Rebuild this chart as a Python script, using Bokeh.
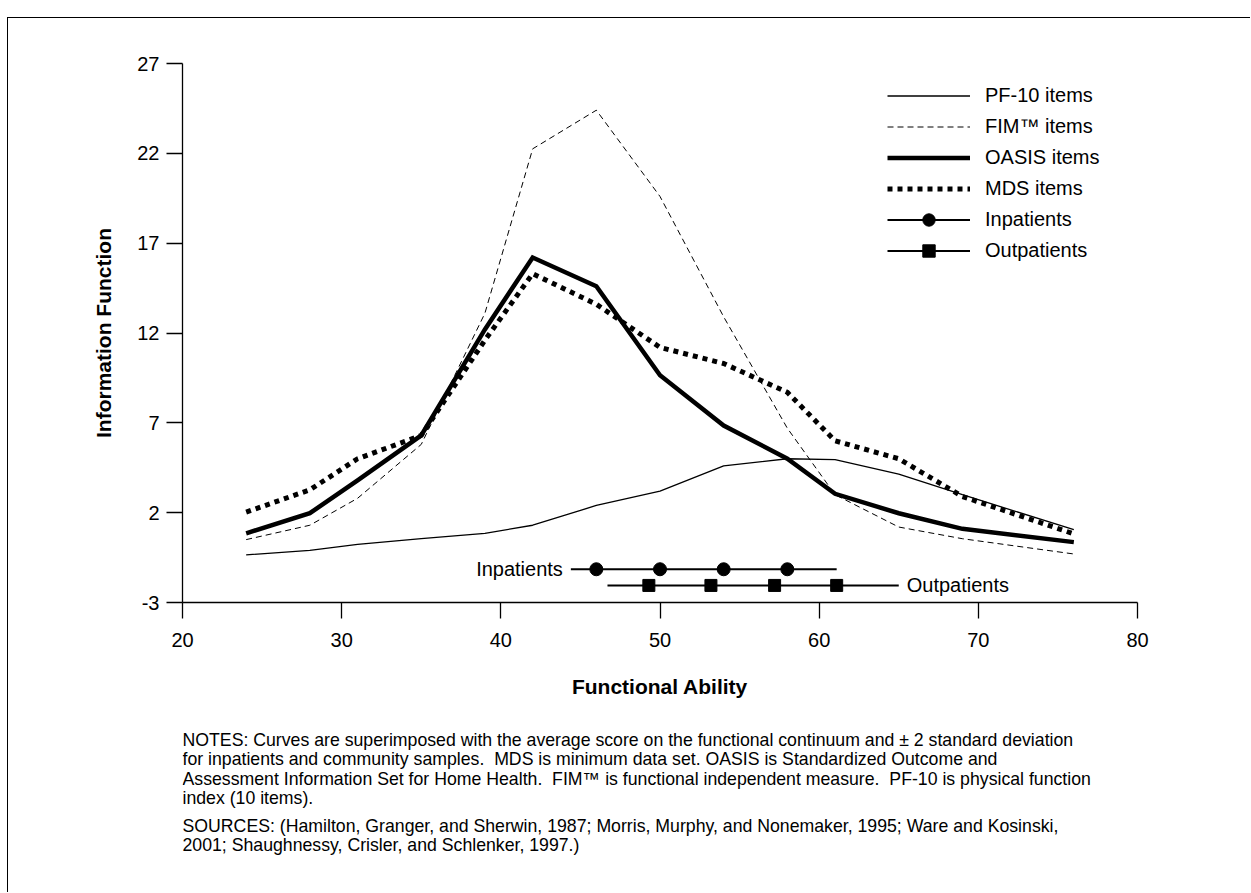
from bokeh.plotting import figure
from bokeh.models import (Legend, LegendItem, Label, FixedTicker, Range1d,
                          PrintfTickFormatter)
from bokeh.layouts import column
from bokeh.embed import file_html
from bokeh.resources import INLINE

FONT = "Liberation Sans"

# ---------------- data ----------------
ability = [24, 28, 31, 35, 39, 42, 46, 50, 54, 58, 61, 65, 69, 76]
pf10 = [-0.35, -0.1, 0.23, 0.55, 0.85, 1.3, 2.4, 3.2, 4.6, 5.0, 4.95, 4.15, 3.0, 1.05]
fim = [0.5, 1.3, 2.8, 5.8, 13.1, 22.25, 24.4, 19.6, 12.9, 6.7, 3.0, 1.2, 0.55, -0.3]
oasis = [0.85, 1.97, 3.8, 6.3, 12.2, 16.2, 14.6, 9.65, 6.85, 5.0, 3.05, 1.97, 1.1, 0.36]
mds = [2.03, 3.27, 5.0, 6.3, 11.6, 15.3, 13.6, 11.2, 10.3, 8.7, 6.0, 5.0, 2.9, 0.82]

inpatient_marks = [46, 50, 54, 58]
inpatient_span = [44.4, 61.1]
inpatient_level = -1.15
outpatient_marks = [49.3, 53.2, 57.2, 61.1]
outpatient_span = [46.7, 65.0]
outpatient_level = -2.05

x_ticks = [20, 30, 40, 50, 60, 70, 80]
y_ticks = [-3, 2, 7, 12, 17, 22, 27]

notes_lines = [
    "NOTES: Curves are superimposed with the average score on the functional continuum and \u00b1 2 standard deviation",
    "for inpatients and community samples.\u00a0 MDS is minimum data set. OASIS is Standardized Outcome and",
    "Assessment Information Set for Home Health.\u00a0 FIM\u2122 is functional independent measure.\u00a0 PF-10 is physical function",
    "index (10 items).",
]
sources_lines = [
    "SOURCES: (Hamilton, Granger, and Sherwin, 1987; Morris, Murphy, and Nonemaker, 1995; Ware and Kosinski,",
    "2001; Shaughnessy, Crisler, and Schlenker, 1997.)",
]

W = 1242
BL, BR = 174, 113

# ---------------- chart figure ----------------
p = figure(width=W, height=700, output_backend="svg", toolbar_location=None,
           x_range=Range1d(20, 80), y_range=Range1d(-3, 27),
           min_border_left=BL, min_border_right=BR,
           min_border_top=45, min_border_bottom=116)
p.outline_line_color = None
p.xgrid.visible = False
p.ygrid.visible = False

for ax in (p.xaxis[0], p.yaxis[0]):
    ax.major_tick_out = 16
    ax.major_tick_in = 0
    ax.minor_tick_line_color = None
    ax.axis_line_color = "black"
    ax.axis_line_width = 1.3
    ax.major_tick_line_width = 1.3
    ax.major_tick_line_color = "black"
    ax.major_label_text_font = FONT
    ax.major_label_text_font_size = "20px"
    ax.major_label_text_color = "black"
    ax.axis_label_text_font = FONT
    ax.axis_label_text_font_size = "21px"
    ax.axis_label_text_font_style = "bold"
    ax.axis_label_text_color = "black"
    ax.formatter = PrintfTickFormatter(format="%d")

p.xaxis.ticker = FixedTicker(ticks=x_ticks)
p.yaxis.ticker = FixedTicker(ticks=y_ticks)
p.xaxis.axis_label = "Functional Ability"
p.yaxis.axis_label = "Information Function"
p.xaxis.major_label_standoff = 14
p.yaxis.major_label_standoff = 7
p.xaxis.axis_label_standoff = 25
p.yaxis.axis_label_standoff = 19

# ---------------- series ----------------
r_pf = p.line(ability, pf10, line_color="black", line_width=1.3)
r_fim = p.line(ability, fim, line_color="black", line_width=1, line_dash="6 4")
r_oasis = p.line(ability, oasis, line_color="black", line_width=4.5, line_join="miter")
r_mds = p.line(ability, mds, line_color="black", line_width=5, line_dash="5 5")

r_in_line = p.line(inpatient_span, [inpatient_level] * len(inpatient_span),
                   line_color="black", line_width=2)
r_in_pts = p.scatter(inpatient_marks, [inpatient_level] * len(inpatient_marks),
                     marker="circle", size=13, color="black")
r_out_line = p.line(outpatient_span, [outpatient_level] * len(outpatient_span),
                    line_color="black", line_width=2)
r_out_pts = p.scatter(outpatient_marks, [outpatient_level] * len(outpatient_marks),
                      marker="square", size=12, color="black")

p.add_layout(Label(x=inpatient_span[0], y=inpatient_level, x_offset=-8,
                   text="Inpatients", text_align="right", text_baseline="middle",
                   text_font=FONT, text_font_size="20px", text_color="black"))
p.add_layout(Label(x=outpatient_span[1], y=outpatient_level, x_offset=8,
                   text="Outpatients", text_align="left", text_baseline="middle",
                   text_font=FONT, text_font_size="20px", text_color="black"))

legend = Legend(items=[
    LegendItem(label="PF-10 items", renderers=[r_pf]),
    LegendItem(label="FIM\u2122 items", renderers=[r_fim]),
    LegendItem(label="OASIS items", renderers=[r_oasis]),
    LegendItem(label="MDS items", renderers=[r_mds]),
    LegendItem(label="Inpatients", renderers=[r_in_line, r_in_pts]),
    LegendItem(label="Outpatients", renderers=[r_out_line, r_out_pts]),
], location=(705, 336), glyph_width=83, glyph_height=31, label_height=21,
    spacing=0, padding=0, margin=0, label_standoff=15,
    border_line_color=None, background_fill_alpha=0,
    label_text_font=FONT, label_text_font_size="20px", label_text_color="black")
p.add_layout(legend)

# ---------------- notes panel (coordinates = page pixels) ----------------
NH = 174
q = figure(width=W, height=NH, output_backend="svg", toolbar_location=None,
           x_range=Range1d(182, 1137), y_range=Range1d(NH, 0),
           x_axis_type=None, y_axis_type=None,
           min_border_left=BL, min_border_right=BR, min_border_top=0, min_border_bottom=0)
q.outline_line_color = None
q.xgrid.visible = False
q.ygrid.visible = False

notes_left, notes_top, pitch = 182, 21, 19.6
for i, txt in enumerate(notes_lines):
    q.add_layout(Label(x=notes_left, y=notes_top + i * pitch, text=txt,
                       text_align="left", text_baseline="middle",
                       text_font=FONT, text_font_size="17.7px", text_color="black"))
sources_top = 107
for i, txt in enumerate(sources_lines):
    q.add_layout(Label(x=notes_left, y=sources_top + i * pitch, text=txt,
                       text_align="left", text_baseline="middle",
                       text_font=FONT, text_font_size="17.7px", text_color="black"))

layout = column(p, q, spacing=0,
                styles={"margin-left": "7px", "margin-top": "17px",
                        "border-top": "1px solid black", "border-left": "1px solid black"})
open("out.html", "w").write(file_html(layout, INLINE))
